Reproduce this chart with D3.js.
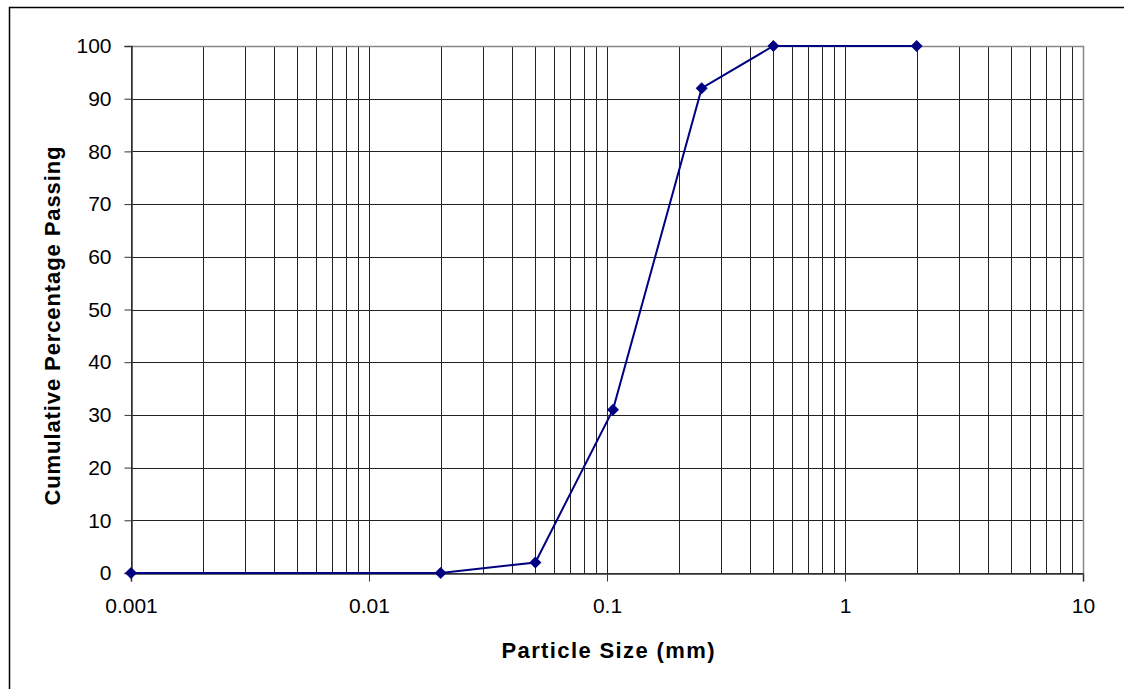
<!DOCTYPE html>
<html>
<head>
<meta charset="utf-8">
<script src="https://cdn.jsdelivr.net/npm/d3@7"></script>
<style>
  html, body { margin: 0; padding: 0; background: #fff; }
  svg { display: block; font-family: "Liberation Sans", Arial, sans-serif; }
</style>
</head>
<body>
<svg id="chart" width="1124" height="689"></svg>
<script>
// Grain size distribution: particle size (mm) vs cumulative % passing
const particleSize = [0.001, 0.02, 0.05, 0.106, 0.25, 0.5, 2];
const percentPassing = [0, 0, 2, 31, 92, 100, 100];
const xTickValues = [0.001, 0.01, 0.1, 1, 10];
const xTickLabels = ["0.001", "0.01", "0.1", "1", "10"];
const yTickValues = [0, 10, 20, 30, 40, 50, 60, 70, 80, 90, 100];

const svg = d3.select("#chart");
const W = 1124, H = 689;
const plot = { left: 131, right: 1083, top: 46, bottom: 573 };
const FONT = "'Liberation Sans', Arial, sans-serif";

// Outer chart frame
svg.append("rect")
  .attr("x", 9.5).attr("y", 7.5)
  .attr("width", W).attr("height", H)
  .attr("fill", "none").attr("stroke", "#000").attr("stroke-width", 1.5);

const x = d3.scaleLog().domain([0.001, 10]).range([plot.left, plot.right]);
const y = d3.scaleLinear().domain([0, 100]).range([plot.bottom, plot.top]);

// Vertical gridlines at every 1..9 × decade
const gridX = [];
for (let e = -3; e < 1; e++) {
  for (let m = 1; m <= 9; m++) gridX.push(m * Math.pow(10, e));
}
gridX.push(10);

const grid = svg.append("g");
grid.selectAll("line.gx").data(gridX).join("line")
  .attr("x1", d => Math.round(x(d)) + 0.5).attr("x2", d => Math.round(x(d)) + 0.5)
  .attr("y1", plot.top).attr("y2", plot.bottom)
  .attr("stroke", "#222").attr("stroke-width", 1);

grid.selectAll("line.gy").data(yTickValues).join("line")
  .attr("x1", plot.left).attr("x2", plot.right)
  .attr("y1", d => Math.round(y(d)) + 0.5).attr("y2", d => Math.round(y(d)) + 0.5)
  .attr("stroke", "#222").attr("stroke-width", 1);

// Plot border (top and right in grey)
svg.append("path")
  .attr("d", `M${plot.left},${plot.top + 0.5}H${plot.right + 0.5}V${plot.bottom}`)
  .attr("fill", "none").attr("stroke", "#888").attr("stroke-width", 1.5);

// Axes
const yAxis = d3.axisLeft(y).tickValues(yTickValues).tickSize(7).tickPadding(13);
const gy = svg.append("g").attr("transform", `translate(${plot.left + 0.5},0)`).call(yAxis);
gy.select(".domain").attr("stroke", "#333").attr("stroke-width", 1.5);
gy.selectAll(".tick line").attr("stroke", "#333");
gy.selectAll(".tick text").attr("font-size", 21).attr("fill", "#000").attr("font-family", FONT);

const xAxis = d3.axisBottom(x).tickValues(xTickValues)
  .tickFormat((d, i) => xTickLabels[i]).tickSize(8).tickPadding(17);
const gx = svg.append("g").attr("transform", `translate(0,${plot.bottom + 0.5})`).call(xAxis);
gx.select(".domain").attr("stroke", "#333").attr("stroke-width", 1.5);
gx.selectAll(".tick line").attr("stroke", "#333");
gx.selectAll(".tick text").attr("font-size", 21).attr("fill", "#000").attr("font-family", FONT);

// Axis titles
svg.append("text")
  .attr("x", 608).attr("y", 658)
  .attr("text-anchor", "middle")
  .attr("font-size", 22).attr("font-weight", "bold")
  .attr("textLength", 213).attr("lengthAdjust", "spacing")
  .text("Particle Size (mm)");

svg.append("text")
  .attr("transform", `translate(60,326) rotate(-90)`)
  .attr("text-anchor", "middle")
  .attr("font-size", 22).attr("font-weight", "bold")
  .attr("textLength", 359).attr("lengthAdjust", "spacing")
  .text("Cumulative Percentage Passing");

// Data line and diamond markers
const data = particleSize.map((d, i) => ({ s: d, p: percentPassing[i] }));
const line = d3.line().x(d => x(d.s)).y(d => y(d.p));
svg.append("path").datum(data)
  .attr("d", line).attr("fill", "none")
  .attr("stroke", "#000080").attr("stroke-width", 2);

svg.selectAll("path.mk").data(data).join("path")
  .attr("class", "mk")
  .attr("transform", d => `translate(${x(d.s)},${y(d.p)})`)
  .attr("d", "M0,-6L6,0L0,6L-6,0Z")
  .attr("fill", "#000080");
</script>
</body>
</html>
